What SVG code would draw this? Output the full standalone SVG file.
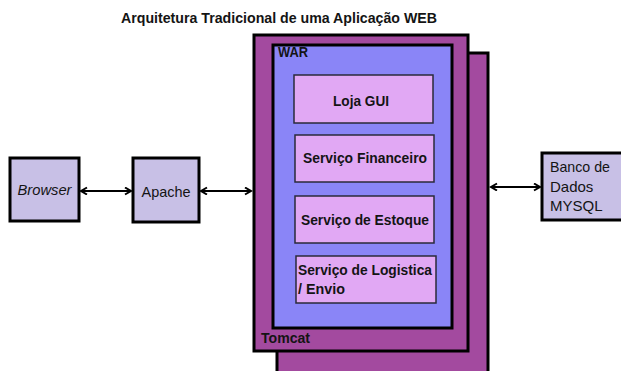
<svg xmlns="http://www.w3.org/2000/svg" width="621" height="371" viewBox="0 0 621 371">
<style>
text{font-family:"Liberation Sans",Arial,sans-serif;fill:#141414}
.b{font-weight:bold;font-size:14px}
.n{font-size:15px}
.tom{fill:#A34A9F;stroke:#000;stroke-width:3}
.war{fill:#8A85F7;stroke:#000;stroke-width:3}
.svc{fill:#E1A8F4;stroke:#2a2a3a;stroke-width:1.5}
.ext{fill:#C8C0E6;stroke:#000;stroke-width:3}
.con{stroke:#000;stroke-width:2;fill:none}
</style>
<defs>
<marker id="ah" markerWidth="10" markerHeight="10" refX="7" refY="4" orient="auto-start-reverse" markerUnits="userSpaceOnUse">
<path d="M1,0.5 L7,4 L1,7.5" fill="none" stroke="#000" stroke-width="2"/>
</marker>
</defs>
<rect width="621" height="371" fill="#fff"/>
<text class="b" x="279" y="23" text-anchor="middle" font-size="15" textLength="316" lengthAdjust="spacingAndGlyphs">Arquitetura Tradicional de uma Aplicação WEB</text>
<g id="tomcat-back"><rect class="tom" x="277" y="53" width="211" height="330"/></g>
<g id="tomcat">
<rect class="tom" x="254" y="35" width="214" height="316"/>
<text class="b" x="261" y="343" font-size="15" textLength="49" lengthAdjust="spacingAndGlyphs">Tomcat</text>
</g>
<g id="war">
<rect class="war" x="273" y="45" width="179" height="283"/>
<text class="b" x="278" y="57" font-size="13" textLength="30" lengthAdjust="spacingAndGlyphs">WAR</text>
</g>
<g id="loja-gui">
<rect class="svc" x="294" y="75" width="139" height="48"/>
<text class="b" x="361" y="106" text-anchor="middle" textLength="56" lengthAdjust="spacingAndGlyphs">Loja GUI</text>
</g>
<g id="servico-financeiro">
<rect class="svc" x="295" y="135" width="139" height="47"/>
<text class="b" x="365" y="163" text-anchor="middle" textLength="124" lengthAdjust="spacingAndGlyphs">Serviço Financeiro</text>
</g>
<g id="servico-estoque">
<rect class="svc" x="295" y="196" width="139" height="47"/>
<text class="b" x="365" y="225" text-anchor="middle" textLength="128" lengthAdjust="spacingAndGlyphs">Serviço de Estoque</text>
</g>
<g id="servico-logistica">
<rect class="svc" x="296" y="256" width="140" height="47"/>
<text class="b" x="298" y="275" textLength="134" lengthAdjust="spacingAndGlyphs">Serviço de Logistica</text>
<text class="b" x="298" y="294" textLength="47" lengthAdjust="spacingAndGlyphs">/ Envio</text>
</g>
<g id="browser">
<rect class="ext" x="10" y="158" width="69" height="63"/>
<text class="n" x="44.5" y="195" text-anchor="middle" font-style="italic" textLength="54" lengthAdjust="spacingAndGlyphs">Browser</text>
</g>
<g id="apache">
<rect class="ext" x="133" y="158" width="66" height="64"/>
<text class="n" x="166" y="197" text-anchor="middle" textLength="49" lengthAdjust="spacingAndGlyphs">Apache</text>
</g>
<g id="banco">
<rect class="ext" x="542" y="153" width="90" height="67"/>
<text class="n" x="550" y="172" textLength="60" lengthAdjust="spacingAndGlyphs">Banco de</text>
<text class="n" x="550" y="192">Dados</text>
<text class="n" x="550" y="211">MYSQL</text>
</g>
<g id="connectors">
<line class="con" x1="81" y1="191" x2="131" y2="191" marker-start="url(#ah)" marker-end="url(#ah)"/>
<line class="con" x1="201" y1="191" x2="251" y2="191" marker-start="url(#ah)" marker-end="url(#ah)"/>
<line class="con" x1="491" y1="187" x2="540" y2="187" marker-start="url(#ah)" marker-end="url(#ah)"/>
</g>
</svg>
